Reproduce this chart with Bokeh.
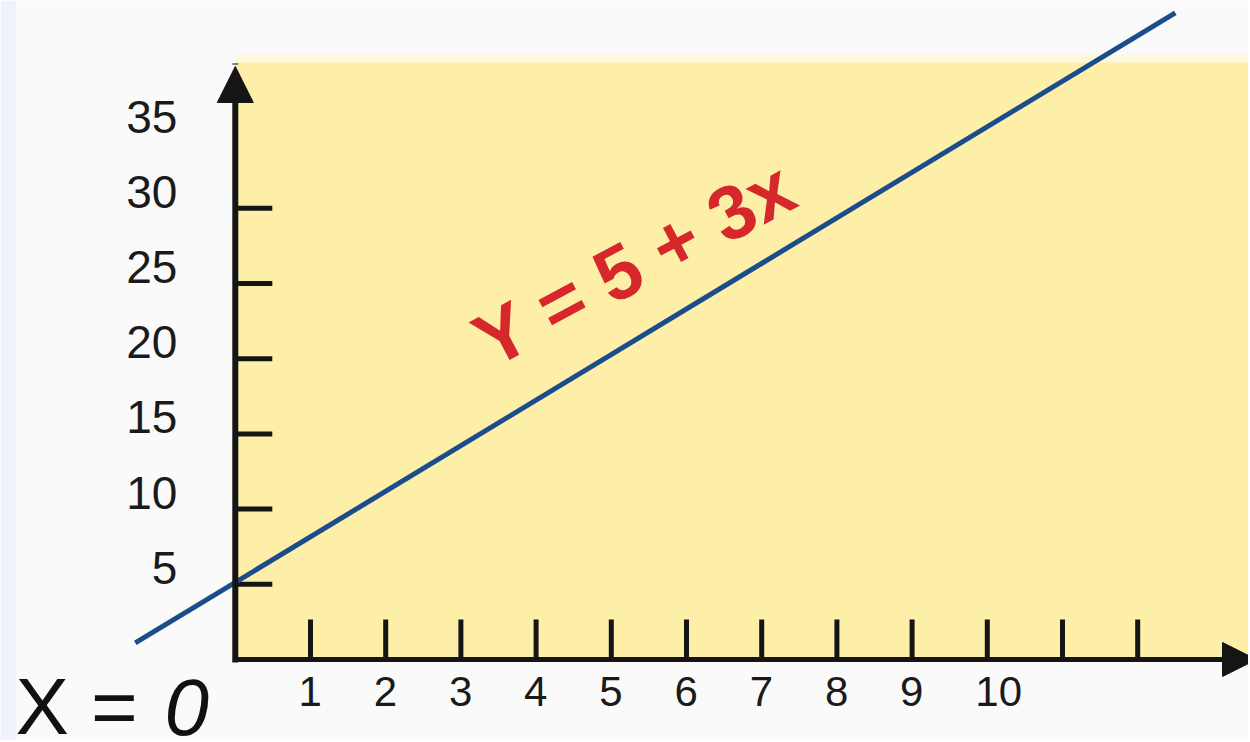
from bokeh.plotting import figure
from bokeh.models import Range1d, Arrow, NormalHead
from bokeh.core.properties import value
from bokeh.embed import file_html
from bokeh.resources import INLINE

# ---- data ----
x_tick_values = [1, 2, 3, 4, 5, 6, 7, 8, 9, 10, 11, 12]
x_label_values = [1, 2, 3, 4, 5, 6, 7, 8, 9, 10]
y_tick_values = [5, 10, 15, 20, 25, 30]
y_label_values = [5, 10, 15, 20, 25, 30, 35]
line_x = [-1.33, 12.5]
line_y = [1.1, 43.0]
equation_text = "Y = 5 + 3x"
origin_text = "X ="
origin_zero = "0"

# ---- layout constants ----
W, H = 1248, 740
PX_X = 75.2    # pixels per x unit
PX_Y = 15.04   # pixels per y unit
X_MIN = -234.8 / PX_X
X_MAX = X_MIN + W / PX_X
Y_MAX = 659 / PX_Y
Y_MIN = Y_MAX - H / PX_Y
AREA_TOP = (659 - 62) / PX_Y
AXIS_COLOR = "#151515"
FONT = "Liberation Sans"

p = figure(width=W, height=H, x_range=Range1d(X_MIN, X_MAX), y_range=Range1d(Y_MIN, Y_MAX),
           x_axis_location=None, y_axis_location=None, toolbar_location=None,
           output_backend="svg", min_border=0, outline_line_color=None,
           background_fill_color="#fafafa", border_fill_color="#fafafa")
p.grid.visible = False

# light blue strip on the left edge
p.quad(left=[X_MIN], right=[X_MIN + 15 / PX_X], bottom=[Y_MIN], top=[Y_MAX],
       fill_color="#eef2fb", line_color=None)

# yellow plot area
p.quad(left=[0], right=[X_MAX], bottom=[0], top=[AREA_TOP + 8 / PX_Y],
       fill_color="#fdf8dc", line_color=None)
p.quad(left=[0], right=[X_MAX], bottom=[0], top=[AREA_TOP],
       fill_color="#fdefa8", line_color=None)

# ticks
p.segment(x0=[0] * len(y_tick_values), y0=y_tick_values,
          x1=[37 / PX_X] * len(y_tick_values), y1=y_tick_values,
          line_width=5, line_color=AXIS_COLOR)
p.segment(x0=x_tick_values, y0=[0] * len(x_tick_values),
          x1=x_tick_values, y1=[40 / PX_Y] * len(x_tick_values),
          line_width=5, line_color=AXIS_COLOR)

# axes with arrows
y_axis = Arrow(end=NormalHead(size=36, fill_color=AXIS_COLOR, line_color=AXIS_COLOR),
               x_start=0, y_start=0, x_end=0, y_end=(659 - 66) / PX_Y,
               line_width=6, line_color=AXIS_COLOR, line_cap="square")
x_axis = Arrow(end=NormalHead(size=34, fill_color=AXIS_COLOR, line_color=AXIS_COLOR),
               x_start=0, y_start=0, x_end=X_MAX + 8 / PX_X, y_end=0,
               line_width=5, line_color=AXIS_COLOR, line_cap="square")
p.add_layout(y_axis)
p.add_layout(x_axis)

# tick labels
p.text(x=[-58 / PX_X] * len(y_label_values), y=[v + 1.1 for v in y_label_values],
       text=[str(v) for v in y_label_values], text_align="right", text_baseline="middle",
       text_font=value(FONT), text_font_size="46px", text_color="#1a1a1a")
p.text(x=x_label_values, y=[-32 / PX_Y] * len(x_label_values),
       text=[str(v) for v in x_label_values], text_align="left", text_baseline="middle",
       x_offset=-12, text_font=value(FONT), text_font_size="42px", text_color="#1a1a1a")

# the line
p.line(line_x, line_y, line_width=5, line_color="#1b4d8c")

# equation label
p.text(x=[(634 - 234.8) / PX_X], y=[(659 - 263) / PX_Y], text=[equation_text],
       angle=28, angle_units="deg",
       text_align="center", text_baseline="middle", text_font=value(FONT),
       text_font_style="bold", text_font_size="76px", text_color="#d6282a")

# X = 0 label
p.text(x=[X_MIN + 15 / PX_X], y=[(659 - 661) / PX_Y], text=[origin_text],
       text_align="left", text_baseline="top", text_font=value(FONT),
       text_font_size="80px", text_color="#111111")
p.text(x=[X_MIN + 164 / PX_X], y=[(659 - 679) / PX_Y], text=[origin_zero],
       text_align="left", text_baseline="top", text_font=value(FONT),
       text_font_style="italic", text_font_size="80px", text_color="#111111")

open("out.html", "w").write(file_html(p, INLINE))
